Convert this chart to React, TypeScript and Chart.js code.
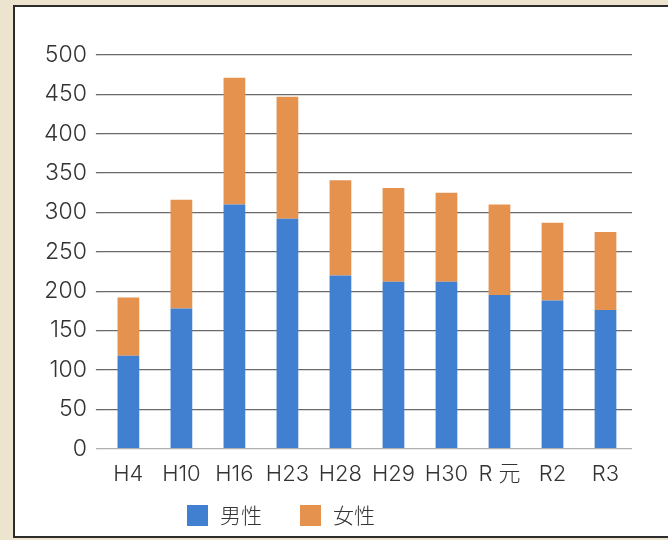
import React, { useEffect, useRef } from "react";
import { Chart, registerables } from "chart.js";

Chart.register(...registerables);

const categories = ["H4", "H10", "H16", "H23", "H28", "H29", "H30", "R 元", "R2", "R3"];
const maleValues = [118, 178, 310, 292, 220, 212, 212, 195, 188, 176];
const femaleValues = [74, 138, 161, 155, 121, 119, 113, 115, 99, 99];
const seriesLabels = ["男性", "女性"];
const seriesColors = ["#4180d0", "#e5924f"];
const yTicks = { min: 0, max: 500, step: 50 };

const FONT = "'Inter', 'Noto Sans CJK JP', sans-serif";

const legendPlugin = {
  id: "customLegend",
  afterDraw(chart: any) {
    const ctx = chart.ctx as CanvasRenderingContext2D;
    ctx.save();
    ctx.font = `300 21px ${FONT}`;
    ctx.textBaseline = "middle";
    ctx.textAlign = "left";
    let x = 187;
    const boxTop = 505;
    const box = 21;
    const cy = boxTop + box / 2;
    chart.data.datasets.forEach((ds: any) => {
      ctx.fillStyle = ds.backgroundColor;
      ctx.fillRect(x, boxTop, box, box);
      const tx = x + box + 12;
      ctx.fillStyle = "#333333";
      ctx.fillText(ds.label, tx, cy + 1);
      x = tx + ctx.measureText(ds.label).width + 38;
    });
    ctx.restore();
  },
};

export default function App() {
  const canvasRef = useRef<HTMLCanvasElement | null>(null);

  useEffect(() => {
    if (!canvasRef.current) return;
    const chart = new Chart(canvasRef.current, {
      type: "bar",
      data: {
        labels: categories,
        datasets: [
          {
            label: seriesLabels[0],
            data: maleValues,
            backgroundColor: seriesColors[0],
            barPercentage: 0.41,
            categoryPercentage: 1,
          },
          {
            label: seriesLabels[1],
            data: femaleValues,
            backgroundColor: seriesColors[1],
            barPercentage: 0.41,
            categoryPercentage: 1,
          },
        ],
      },
      options: {
        responsive: true,
        maintainAspectRatio: false,
        animation: false,
        devicePixelRatio: 1,
        layout: { padding: { left: 35, right: 36, top: 55, bottom: 39 } },
        plugins: {
          legend: { display: false },
          tooltip: { enabled: false },
        },
        scales: {
          x: {
            stacked: true,
            grid: { display: false, drawTicks: false },
            border: { display: false },
            ticks: {
              padding: 13,
              color: "#333333",
              font: { family: FONT, size: 22, weight: 300 as any },
            },
          },
          y: {
            stacked: true,
            min: yTicks.min,
            max: yTicks.max,
            border: { display: false },
            grid: {
              color: (c: any) => (c.tick && c.tick.value === 0 ? "#b0b0b0" : "#6a6a6a"),
              lineWidth: 1.3,
              tickLength: 6,
            },
            ticks: {
              stepSize: yTicks.step,
              padding: 9,
              color: "#333333",
              font: { family: FONT, size: 23, weight: 300 as any },
            },
          },
        },
      },
      plugins: [legendPlugin],
    });
    return () => chart.destroy();
  }, []);

  return (
    <div
      style={{
        position: "absolute",
        left: 0,
        top: 0,
        width: 668,
        height: 540,
        background: "#ece4cf",
        overflow: "hidden",
      }}
    >
      <div
        style={{
          position: "absolute",
          left: 13,
          top: 5,
          width: 670,
          height: 529,
          background: "#ffffff",
          border: "2px solid #2c2c2c",
          borderRight: "none",
          boxSizing: "content-box",
        }}
      />
      <div style={{ position: "absolute", left: 0, top: 0, width: 668, height: 540 }}>
        <canvas ref={canvasRef} />
      </div>
    </div>
  );
}
